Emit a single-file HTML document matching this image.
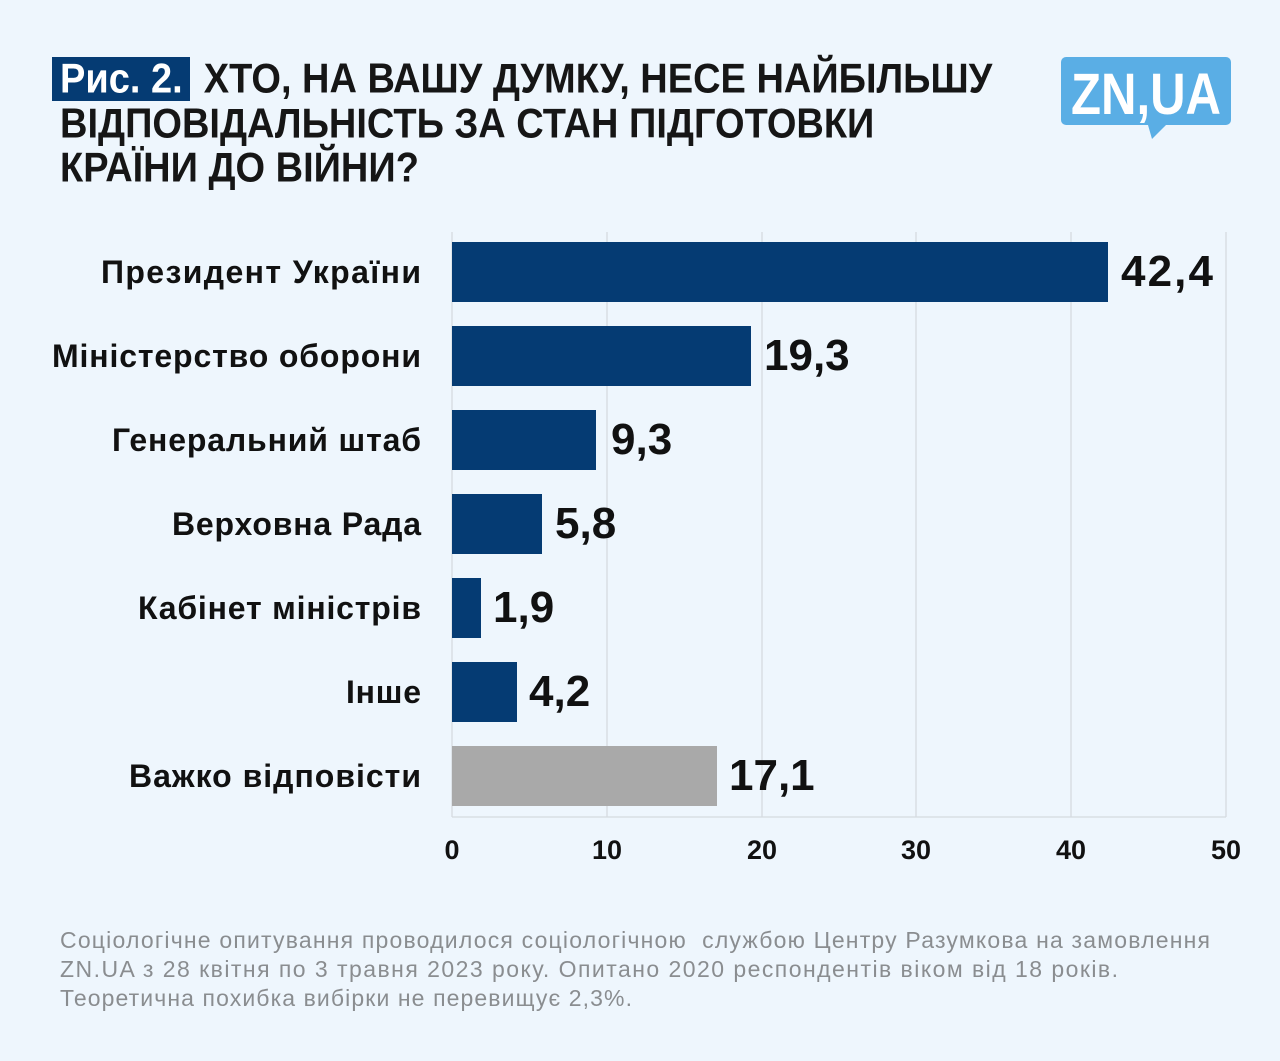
<!DOCTYPE html>
<html><head><meta charset="utf-8"><style>
body{margin:0;width:1280px;height:1061px;background:#eef6fd;font-family:"Liberation Sans",sans-serif;overflow:hidden;position:relative}
.t{position:absolute;font-family:"Liberation Sans Narrow","Liberation Sans",sans-serif;font-weight:bold;font-size:38px;color:#161616;left:60px;white-space:nowrap;transform:scaleY(1.1);transform-origin:left top}
.box{position:absolute;left:52px;top:57px;width:138px;height:44px;background:#053b73}
</style></head><body>
<div class="box"></div>
<div class="t" style="top:56px"><span style="color:#fff">Рис. 2.</span>&nbsp; ХТО, НА ВАШУ ДУМКУ, НЕСЕ НАЙБІЛЬШУ</div>
<div class="t" style="top:101px">ВІДПОВІДАЛЬНІСТЬ ЗА СТАН ПІДГОТОВКИ</div>
<div class="t" style="top:145px">КРАЇНИ ДО ВІЙНИ?</div>
<svg width="1280" height="1061" style="position:absolute;left:0;top:0">
<path d="M1066 57h160a5 5 0 0 1 5 5v58a5 5 0 0 1-5 5h-60l-14 14-4-14h-82a5 5 0 0 1-5-5v-58a5 5 0 0 1 5-5z" fill="#5aaee5"/>
<text x="1146" y="114" text-anchor="middle" font-family="Liberation Sans Narrow,Liberation Sans,sans-serif" font-weight="bold" font-size="58" fill="#fff" textLength="150" lengthAdjust="spacingAndGlyphs">ZN,UA</text>
<g stroke="#d5dbe0" stroke-width="1.3">
<line x1="452" y1="232" x2="452" y2="817"/><line x1="607" y1="232" x2="607" y2="817"/><line x1="762" y1="232" x2="762" y2="817"/><line x1="916" y1="232" x2="916" y2="817"/><line x1="1071" y1="232" x2="1071" y2="817"/><line x1="1226" y1="232" x2="1226" y2="817"/><line x1="452" y1="817" x2="1226" y2="817"/>
</g>
<g fill="#053b73">
<rect x="452" y="242" width="656" height="60"/><rect x="452" y="326" width="299" height="60"/><rect x="452" y="410" width="144" height="60"/><rect x="452" y="494" width="90" height="60"/><rect x="452" y="578" width="29" height="60"/><rect x="452" y="662" width="65" height="60"/>
</g>
<rect x="452" y="746" width="265" height="60" fill="#a9a9a9"/>
<g font-family="Liberation Sans,sans-serif" font-weight="bold" font-size="32" fill="#111" lengthAdjust="spacingAndGlyphs">
<text x="101" y="283" textLength="320">Президент України</text><text x="52" y="367" textLength="369">Міністерство оборони</text><text x="112" y="451" textLength="309">Генеральний штаб</text><text x="172" y="535" textLength="249">Верховна Рада</text><text x="138" y="619" textLength="283">Кабінет міністрів</text><text x="346" y="703" textLength="75">Інше</text><text x="129" y="787" textLength="292">Важко відповісти</text>
</g>
<g font-family="Liberation Sans,sans-serif" font-weight="bold" font-size="44" fill="#111">
<text x="1121" y="286" textLength="92">42,4</text><text x="764" y="370">19,3</text><text x="611" y="454">9,3</text><text x="555" y="538">5,8</text><text x="493" y="622">1,9</text><text x="529" y="706">4,2</text><text x="729" y="790">17,1</text>
</g>
<g font-family="Liberation Sans,sans-serif" font-weight="bold" font-size="27" fill="#111" text-anchor="middle">
<text x="452" y="859">0</text><text x="607" y="859">10</text><text x="762" y="859">20</text><text x="916" y="859">30</text><text x="1071" y="859">40</text><text x="1226" y="859">50</text>
</g>
<g font-family="Liberation Sans,sans-serif" font-size="23" fill="#8a8d90" lengthAdjust="spacingAndGlyphs">
<text x="60" y="948" textLength="1150">Соціологічне опитування проводилося соціологічною&#160; службою Центру Разумкова на замовлення</text>
<text x="60" y="977" textLength="1058">ZN.UA з 28 квітня по 3 травня 2023 року. Опитано 2020 респондентів віком від 18 років.</text>
<text x="60" y="1006" textLength="572">Теоретична похибка вибірки не перевищує 2,3%.</text>
</g>
</svg>
</body></html>
